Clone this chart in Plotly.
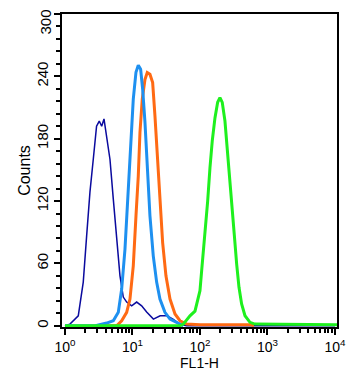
import plotly.graph_objects as go

# log10(FL1-H) positions and counts
navy_logx = [0.0, 0.074, 0.197, 0.271, 0.321, 0.370, 0.419, 0.468, 0.508, 0.544, 0.578, 0.618, 0.667,
             0.716, 0.766, 0.815, 0.864, 0.914, 0.988, 1.062, 1.136, 1.21, 1.31, 1.41, 1.51, 1.60, 1.70, 1.80, 4.0]
navy_counts = [0, 1.6, 9.6, 42, 86.5, 128.6, 160, 192, 197, 192, 199, 183, 160,
               121.8, 86.5, 48, 27.6, 22.8, 19.2, 22.8, 19.2, 13.2, 6.4, 9.6, 9.6, 6.4, 1.6, 0, 0]

lblue_logx = [0.0, 0.45, 0.618, 0.716, 0.790, 0.840, 0.889, 0.914, 0.948, 0.978, 1.012, 1.052, 1.086, 1.121,
              1.151, 1.185, 1.219, 1.259, 1.308, 1.358, 1.407, 1.481, 1.556, 1.655, 1.753]
lblue_counts = [0, 0, 2.6, 4.8, 12.9, 35.3, 73.8, 105.8, 144, 186, 218, 244, 250.7, 246.8,
                227.6, 196, 153.8, 105.8, 67.3, 42, 25.7, 12.9, 6.4, 3.3, 0]

orange_logx = [0.55, 0.766, 0.840, 0.914, 0.963, 1.012, 1.052, 1.086, 1.111, 1.145, 1.185, 1.219, 1.259, 1.299,
               1.333, 1.367, 1.407, 1.447, 1.496, 1.556, 1.630, 1.704, 1.802, 2.0, 2.4, 2.75, 2.8]
orange_counts = [0, 0, 4.8, 12.9, 25.7, 57.7, 105.8, 144, 186, 218, 237, 243.6, 242, 234,
                 202, 163.5, 121.8, 80, 48, 25.7, 11.3, 4.8, 1.6, 1, 1, 1, 0]

green_logx = [0.0, 1.70, 1.753, 1.852, 1.926, 2.0, 2.025, 2.074, 2.114, 2.148, 2.182, 2.222, 2.262, 2.296,
              2.330, 2.370, 2.404, 2.444, 2.469, 2.508, 2.544, 2.578, 2.617, 2.667, 2.741, 2.815, 3.2, 3.6, 4.05]
green_counts = [0, 0, 1.6, 9.6, 14, 33.7, 53, 88, 120, 152, 178, 200, 215, 219.6,
                215, 197, 171.5, 142.7, 117, 88, 59, 37, 21, 9.6, 3.3, 1.6, 1.5, 1.2, 1]

x_tickvals = [1, 10, 100, 1000, 10000]
x_ticktext = ["10<sup>0</sup>", "10<sup>1</sup>", "10<sup>2</sup>", "10<sup>3</sup>", "10<sup>4</sup>"]
y_tickvals = [0, 60, 120, 180, 240, 300]
y_ticktext = ["0", "60", "120", "180", "240", "300"]

fig = go.Figure()

def add(logx, counts, color, width):
    fig.add_trace(go.Scatter(x=[10 ** v for v in logx], y=counts, mode="lines",
                             line=dict(color=color, width=width), hoverinfo="skip"))

add(navy_logx, navy_counts, "#0a0a9e", 1.5)
add(orange_logx, orange_counts, "#ff6a14", 3)
add(lblue_logx, lblue_counts, "#1e90f0", 3)
add(green_logx, green_counts, "#1ef01e", 3)

minor_x = [m * 10 ** d for d in range(4) for m in range(2, 10)]

# the top label (300) would run off the page when centred on its tick, so it is an annotation
y_shown = [t if v != 300 else "" for v, t in zip(y_tickvals, y_ticktext)]
fig.add_annotation(text=y_ticktext[-1], textangle=-90, showarrow=False,
                   xref="paper", x=0, xanchor="center", xshift=-17,
                   yref="y", y=y_tickvals[-1], yanchor="top", yshift=6,
                   font=dict(size=15))

fig.update_layout(
    width=353, height=373,
    margin=dict(l=54, r=24, t=6, b=54),
    plot_bgcolor="white", paper_bgcolor="white",
    showlegend=False,
    font=dict(family="Liberation Sans, Arial, sans-serif", size=14, color="black"),
    xaxis=dict(type="log", range=[-0.044, 4.03], tickmode="array", tickvals=x_tickvals, ticktext=x_ticktext,
               automargin=False,
               ticks="outside", ticklen=6, tickwidth=2, tickcolor="black",
               showline=True, linecolor="black", linewidth=2, mirror=True,
               showgrid=False, zeroline=False,
               minor=dict(tickmode="array", tickvals=minor_x, ticks="outside", ticklen=4, tickwidth=2,
                          tickcolor="black", showgrid=False),
               title=dict(text="FL1-H", standoff=0, font=dict(size=14)),
               tickfont=dict(size=14)),
    yaxis=dict(range=[-1.2, 300], tickmode="array", tickvals=y_tickvals, ticktext=y_shown, tickangle=-90,
               automargin=False,
               ticks="outside", ticklen=6, tickwidth=2, tickcolor="black",
               showline=True, linecolor="black", linewidth=1.5, mirror=True,
               showgrid=False, zeroline=False,
               minor=dict(dtick=12, ticks="outside", ticklen=4, tickwidth=2, tickcolor="black", showgrid=False),
               title=dict(text="Counts", standoff=0, font=dict(size=16)),
               tickfont=dict(size=15)),
)

fig.write_html("out.html")
